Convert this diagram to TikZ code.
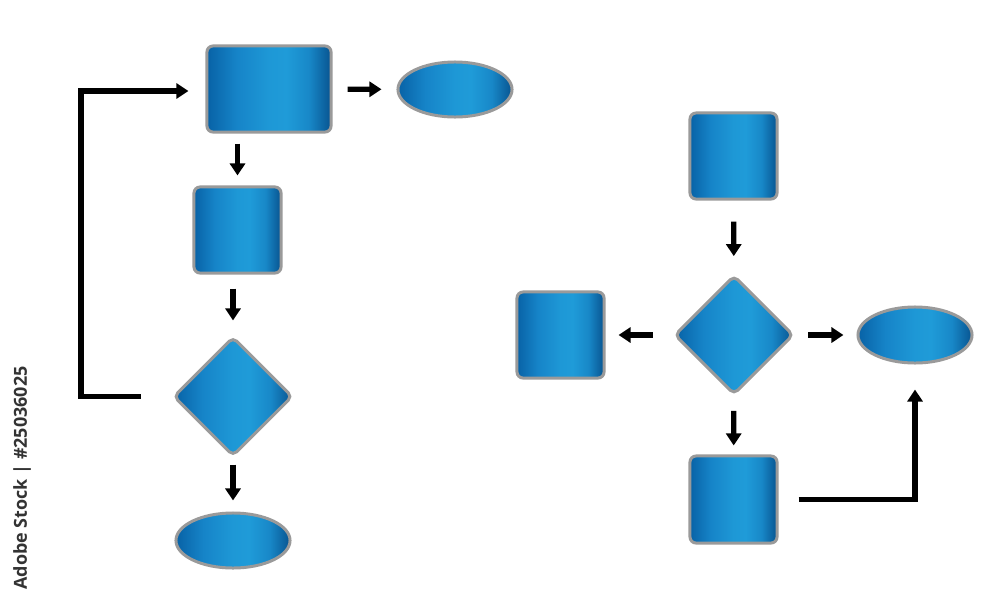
\documentclass[tikz,border=0pt]{standalone}
\usepackage{fontspec}
\newfontfamily\stockfont{Open Sans}
\usetikzlibrary{positioning,arrows.meta,calc,shapes.geometric}
\definecolor{bedge}{HTML}{9A9A9A}
\pgfdeclarehorizontalshading{bluebar}{100bp}{%
  color(0bp)=(white);
  color(25bp)=(white);
  color(25bp)=(rgb,255:red,8;green,98;blue,166);
  color(37bp)=(rgb,255:red,22;green,132;blue,200);
  color(50bp)=(rgb,255:red,30;green,152;blue,214);
  color(57bp)=(rgb,255:red,31;green,155;blue,216);
  color(66bp)=(rgb,255:red,24;green,136;blue,200);
  color(75bp)=(rgb,255:red,8;green,84;blue,144);
  color(75bp)=(white);
  color(100bp)=(white)}
\begin{document}
\begin{tikzpicture}[x=0.01cm,y=-0.01cm,
    blk/.style={draw=bedge,line width=0.85pt,shading=bluebar,inner sep=0pt},
    box/.style={blk,rectangle,rounded corners=0.06cm},
    oval/.style={blk,ellipse,minimum width=1.14cm,minimum height=0.55cm},
    choice/.style={blk,diamond,rounded corners=0.05cm,minimum width=1.19cm,minimum height=1.19cm},
    arr/.style={line width=1.5pt,-{Triangle[length=0.12cm,width=0.15cm]},shorten <=0.14cm,shorten >=0.14cm},
    every node/.style={font=\footnotesize}]
  \useasboundingbox (0,0) rectangle (1000,600);
  % left chart
  \node[box,minimum width=1.24cm,minimum height=0.86cm] (A) at (269,89) {};
  \node[oval] (B) at (455,89.5) {};
  \node[box,minimum width=0.87cm,minimum height=0.86cm] (C) at (237.5,230) {};
  \node[choice] (D) at (233,396.5) {};
  \node[oval] (E) at (233,540.5) {};
  \draw[arr,shorten <=0.15cm,shorten >=0.15cm] (A) -- (B);
  \draw[arr,shorten <=0.1cm,shorten >=0.1cm] (A.south-|C.north) -- (C.north);
  \draw[arr,shorten <=0.14cm,shorten >=0.15cm] (C.south-|D.north) -- (D.north);
  \draw[arr,shorten <=0.07cm,shorten >=0.11cm] (D) -- (E);
  \draw[arr,shorten <=0.31cm,shorten >=0.17cm] (D.west) -- ++(-91,0) |- ($(A.west)+(0,2)$);
  % right chart
  \node[box,minimum width=0.87cm,minimum height=0.86cm] (F) at (733.5,156) {};
  \node[choice] (G) at (734,335) {};
  \node[box,minimum width=0.87cm,minimum height=0.86cm] (H) at (560.5,335) {};
  \node[oval,minimum height=0.56cm] (I) at (915,335) {};
  \node[box,minimum width=0.87cm,minimum height=0.87cm] (J) at (733.5,499.5) {};
  \draw[arr,shorten <=0.21cm,shorten >=0.18cm] (F) -- (G);
  \draw[arr,shorten <=0.2cm,shorten >=0.13cm] (G) -- (H);
  \draw[arr,shorten <=0.13cm,shorten >=0.13cm] (G) -- (I);
  \draw[arr,shorten <=0.15cm,shorten >=0.09cm] (G) -- (J);
  \draw[arr,shorten <=0.2cm,shorten >=0.25cm] (J.east) -| (I.south);
  % stock mark
  \node[rotate=90,text=black!80,font=\stockfont\bfseries\fontsize{5.1}{6}\selectfont,inner sep=0pt] (mark) at (22,478) {Adobe Stock | \#25036025};
\end{tikzpicture}
\end{document}
